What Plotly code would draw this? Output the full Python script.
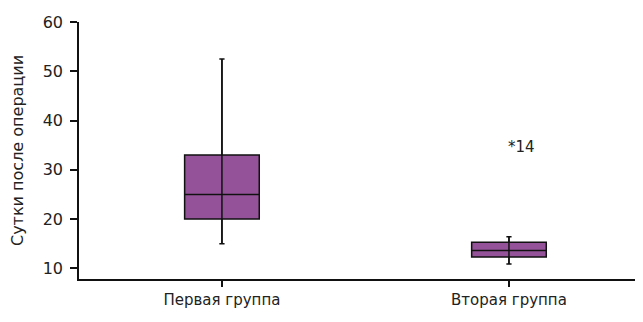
import plotly.graph_objects as go

categories = ["Первая группа", "Вторая группа"]
q1 = [20.0, 12.3]
median = [25.0, 13.6]
q3 = [33.0, 15.3]
lower_whisker = [15.0, 10.9]
upper_whisker = [52.5, 16.4]
outlier_category = ["Вторая группа"]
outlier_value = [35.0]
outlier_label = ["*14"]
y_ticks = [10, 20, 30, 40, 50, 60]
y_title = "Сутки после операции"

font_family = "DejaVu Sans, Verdana, sans-serif"
text_color = "#222222"
line_color = "#111111"

fig = go.Figure()
fig.add_trace(go.Box(
    x=categories,
    q1=q1, median=median, q3=q3,
    lowerfence=lower_whisker, upperfence=upper_whisker,
    fillcolor="#945399",
    line=dict(color=line_color, width=1.5),
    width=0.26,
    whiskerwidth=0.07,
    boxpoints=False,
    hoverinfo="skip",
    showlegend=False,
))

# whisker line continuing through the box (as in the reference)
for c, lo, hi in zip(categories, lower_whisker, upper_whisker):
    fig.add_trace(go.Scatter(
        x=[c, c], y=[lo, hi], mode="lines",
        line=dict(color=line_color, width=1.5),
        hoverinfo="skip", showlegend=False,
    ))

for c, v, t in zip(outlier_category, outlier_value, outlier_label):
    fig.add_annotation(x=c, y=v, text=t, showarrow=False, xanchor="left",
                       yanchor="middle", xshift=-3, yshift=-2,
                       font=dict(family=font_family, size=15, color=text_color))

# page body has an 8px default margin, so the figure is offset by 8px
fig.update_layout(
    width=635, height=314,
    margin=dict(l=71, r=0, t=14, b=43),
    paper_bgcolor="white", plot_bgcolor="white",
    font=dict(family=font_family, size=15, color=text_color),
    xaxis=dict(
        type="category",
        range=[-0.498, 1.467],
        automargin=False,
        showline=True, linecolor=line_color, linewidth=1.5,
        ticks="outside", ticklen=6, tickcolor=line_color, tickwidth=1.5,
        showgrid=False, zeroline=False,
        tickfont=dict(size=15),
    ),
    yaxis=dict(
        range=[7.83, 60],
        tickvals=y_ticks,
        automargin=False,
        showline=True, linecolor=line_color, linewidth=1.5,
        ticks="outside", ticklen=7, tickcolor=line_color, tickwidth=1.5,
        ticklabelstandoff=4,
        showgrid=False, zeroline=False,
        title=dict(text=y_title, font=dict(size=16), standoff=19),
        tickfont=dict(size=16),
    ),
)

fig.write_html("out.html")
